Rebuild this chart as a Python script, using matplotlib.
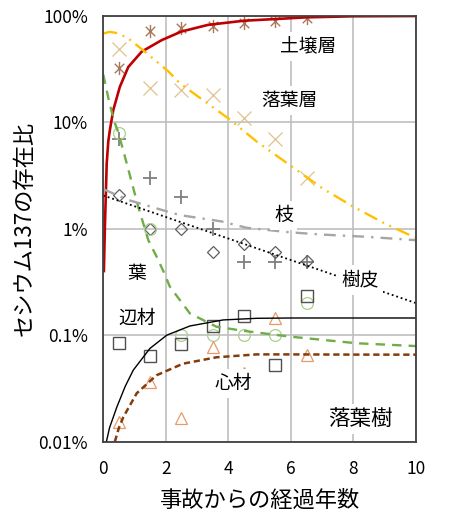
import matplotlib
matplotlib.use("Agg")
import matplotlib.pyplot as plt
from matplotlib.path import Path

plt.rcParams['font.family'] = ['Noto Sans CJK JP', 'DejaVu Sans']

# ---------------- data (percent) ----------------
soil_pts_x = [0.5, 1.5, 2.5, 3.5, 4.5, 5.5, 6.5]
soil_pts_y = [32, 72, 77, 80, 86, 90, 94.5]

litter_pts_x = [0.5, 1.5, 2.5, 3.5, 4.5, 5.5, 6.5]
litter_pts_y = [49, 20.8, 20, 18, 11, 6.95, 2.97]

branch_pts_x = [0.5, 1.5, 2.5, 3.5, 4.5, 5.5, 6.5]
branch_pts_y = [6.9, 2.97, 1.97, 0.99, 0.49, 0.49, 0.49]

bark_pts_x = [0.5, 1.5, 2.5, 3.5, 4.5, 5.5, 6.5]
bark_pts_y = [2.07, 1.0, 1.0, 0.6, 0.72, 0.61, 0.5]

leaf_pts_x = [0.5, 1.5, 2.5, 3.5, 4.5, 5.5, 6.5]
leaf_pts_y = [8.0, 1.0, 0.1, 0.1, 0.1, 0.1, 0.2]

sap_pts_x = [0.5, 1.5, 2.5, 3.5, 4.5, 5.5, 6.5]
sap_pts_y = [0.084, 0.064, 0.083, 0.122, 0.151, 0.052, 0.233]

heart_pts_x = [0.5, 1.5, 2.5, 3.5, 4.5, 5.5, 6.5]
heart_pts_y = [0.0154, 0.036, 0.0166, 0.078, 0.044, 0.146, 0.065]

# fitted curves
soil_line_x = [0.02, 0.05, 0.11, 0.16, 0.21, 0.32, 0.53, 0.8, 1.23, 1.87, 2.5, 3.35, 4.5, 5.5, 6.5, 8.0, 10.0]
soil_line_y = [0.4, 1.0, 4.1, 6.6, 8.4, 13, 21.5, 33, 46, 59, 71, 82, 89.7, 93, 96.5, 98.7, 99.3]

litter_line_x = [0.0, 0.2, 0.4, 0.75, 1.33, 2.08, 2.45, 3.14, 3.99, 4.9, 5.96, 7.0, 7.99, 9.0, 9.8, 10.0]
litter_line_y = [68, 70.5, 69, 62.7, 46, 30, 23.2, 16.5, 10.9, 6.6, 3.96, 2.4, 1.61, 1.12, 0.87, 0.82]

leaf_line_x = [0.0, 0.2, 0.37, 0.47, 0.75, 1.12, 1.44, 1.7, 1.92, 2.13, 2.77, 3.62, 4.47, 5.96, 8.1, 10.0]
leaf_line_y = [28, 15, 9.8, 8.2, 4.1, 1.6, 0.78, 0.55, 0.4, 0.285, 0.16, 0.12, 0.11, 0.097, 0.084, 0.079]

branch_line_x = [0.0, 0.8, 1.87, 2.46, 3.78, 4.58, 5.96, 7.0, 8.4, 10.0]
branch_line_y = [2.35, 1.86, 1.5, 1.34, 1.17, 1.02, 0.925, 0.88, 0.84, 0.78]

bark_line_x = [0.0, 5.0, 10.0]
bark_line_y = [2.05, 0.64, 0.2]

sap_line_x = [0.1, 0.2, 0.43, 0.7, 0.96, 1.49, 2.03, 2.77, 3.83, 4.9, 6.0, 8.0, 10.0]
sap_line_y = [0.01, 0.0135, 0.021, 0.033, 0.047, 0.075, 0.1, 0.122, 0.139, 0.144, 0.145, 0.145, 0.145]

heart_line_x = [0.37, 0.5, 0.64, 1.07, 1.7, 2.55, 3.62, 4.9, 6.0, 8.0, 10.0]
heart_line_y = [0.01, 0.0135, 0.017, 0.0285, 0.042, 0.054, 0.062, 0.066, 0.066, 0.0657, 0.0656]

y_ticks = [0.01, 0.1, 1, 10, 100]
y_ticklabels = ['0.01%', '0.1%', '1%', '10%', '100%']
x_ticks = [0, 2, 4, 6, 8, 10]

labels = ['土壌層', '落葉層', '枝', '葉', '樹皮', '辺材', '心材', '落葉樹']
label_x = [6.55, 5.94, 5.77, 1.07, 8.22, 1.07, 4.15, 8.22]
label_y = [51, 15.9, 1.34, 0.38, 0.33, 0.144, 0.035, 0.0163]
label_size = [13.5, 13.5, 13.5, 13.5, 13.5, 13.5, 13.5, 15.5]

# ---------------- figure ----------------
fig = plt.figure(figsize=(4.5, 5.23), dpi=100)
ax = fig.add_axes([0.2295, 0.1555, 0.695, 0.8145])
ax.set_yscale('log')
ax.set_xlim(0, 10)
ax.set_ylim(0.01, 100)

ax.grid(True, which='major', color='#bfbfbf', linewidth=1.2, zorder=0)
ax.minorticks_off()
ax.set_axisbelow(True)

# asterisk marker: vertical + X
ast = Path([(0, -1), (0, 1), (-0.72, -0.72), (0.72, 0.72), (-0.72, 0.72), (0.72, -0.72)],
           [Path.MOVETO, Path.LINETO, Path.MOVETO, Path.LINETO, Path.MOVETO, Path.LINETO])

ms = 8.5
# points
ax.plot(soil_pts_x, soil_pts_y, ls='none', marker=ast, ms=ms + 1, mew=1.0, color='#a9785c', zorder=3)
ax.plot(litter_pts_x, litter_pts_y, ls='none', marker='x', ms=ms + 1.5, mew=0.9, color='#dfc38e', zorder=3)
ax.plot(branch_pts_x, branch_pts_y, ls='none', marker='+', ms=ms + 1, mew=1.3, color='#7f7f7f', zorder=3)
ax.plot(bark_pts_x, bark_pts_y, ls='none', marker='D', ms=ms - 2.3, mew=0.9, mfc='none', mec='#606060', zorder=3)
ax.plot(leaf_pts_x, leaf_pts_y, ls='none', marker='o', ms=ms, mew=0.9, mfc='none', mec='#a9d18e', zorder=3)
ax.plot(sap_pts_x, sap_pts_y, ls='none', marker='s', ms=ms + 0.3, mew=1.0, mfc='none', mec='#505050', zorder=3)
ax.plot(heart_pts_x, heart_pts_y, ls='none', marker='^', ms=ms + 0.8, mew=0.9, mfc='none', mec='#e59a6a', zorder=3)

# fitted lines
ax.plot(soil_line_x, soil_line_y, color='#c00000', lw=1.9, zorder=4)
ax.plot(litter_line_x, litter_line_y, color='#ffc000', lw=1.7, ls=(0, (6, 2.5, 0.8, 2.5, 0.8, 2.5)), zorder=4)
ax.plot(leaf_line_x, leaf_line_y, color='#70ad47', lw=1.7, ls=(0, (4, 3)), zorder=4)
ax.plot(branch_line_x, branch_line_y, color='#a6a6a6', lw=1.7, ls=(0, (5, 3, 1, 3)), zorder=4)
ax.plot(bark_line_x, bark_line_y, color='#000000', lw=1.3, ls=(0, (1, 1.6)), zorder=4)
ax.plot(sap_line_x, sap_line_y, color='#000000', lw=1.0, zorder=4)
ax.plot(heart_line_x, heart_line_y, color='#843c0c', lw=1.8, ls=(0, (2.5, 1.5)), zorder=4)

for t, x, y, s in zip(labels, label_x, label_y, label_size):
    ax.text(x, y, t, ha='center', va='center', fontsize=s, color='#000000', zorder=6,
            bbox=dict(facecolor='white', edgecolor='none', pad=3))

ax.set_yticks(y_ticks)
ax.set_yticklabels(y_ticklabels)
ax.set_xticks(x_ticks)
ax.tick_params(axis='both', length=0, labelsize=12.5, colors='#000000')
ax.tick_params(axis='y', pad=11)
ax.tick_params(axis='x', pad=13)

for sp in ax.spines.values():
    sp.set_color('#404040')
    sp.set_linewidth(1.3)
    sp.set_zorder(7)

ax.set_xlabel('事故からの経過年数', fontsize=16, labelpad=8)
ax.set_ylabel('セシウム137の存在比', fontsize=16, labelpad=2)

fig.savefig('out.png', dpi=100)
